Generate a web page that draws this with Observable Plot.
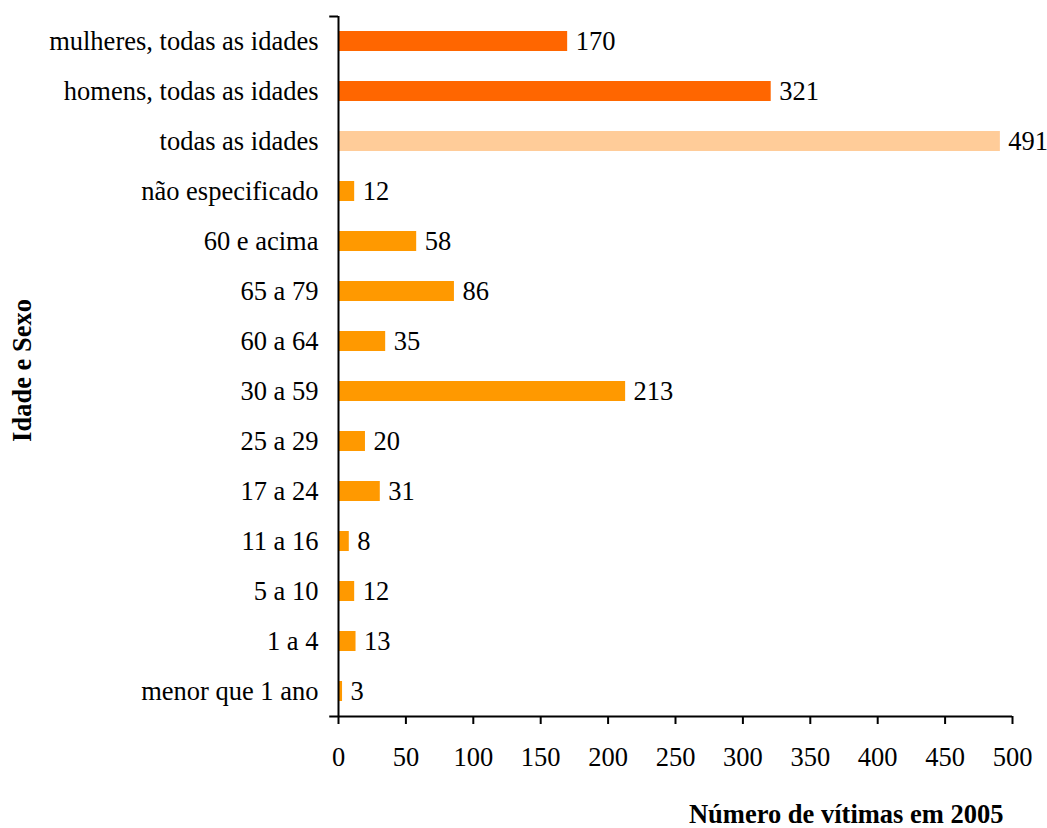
<!DOCTYPE html>
<html>
<head>
<meta charset="utf-8">
<script src="https://cdn.jsdelivr.net/npm/d3@7"></script>
<script src="https://cdn.jsdelivr.net/npm/@observablehq/plot@0.6"></script>
<style>
  html, body { margin: 0; padding: 0; background: #fff; }
</style>
</head>
<body>
<div id="chart"></div>
<script>
const categories = [
  "mulheres, todas as idades",
  "homens, todas as idades",
  "todas as idades",
  "não especificado",
  "60 e acima",
  "65 a 79",
  "60 a 64",
  "30 a 59",
  "25 a 29",
  "17 a 24",
  "11 a 16",
  "5 a 10",
  "1 a 4",
  "menor que 1 ano"
];
const values = [170, 321, 491, 12, 58, 86, 35, 213, 20, 31, 8, 12, 13, 3];
const barColors = ["#FF6600", "#FF6600", "#FFCC99", "#FF9900", "#FF9900", "#FF9900", "#FF9900",
                   "#FF9900", "#FF9900", "#FF9900", "#FF9900", "#FF9900", "#FF9900", "#FF9900"];
const xTicks = [0, 50, 100, 150, 200, 250, 300, 350, 400, 450, 500];
const xLabel = "Número de vítimas em 2005";
const yLabel = "Idade e Sexo";

const data = categories.map((c, i) => ({category: c, value: values[i], color: barColors[i]}));

const chart = Plot.plot({
  width: 1047,
  height: 828,
  marginLeft: 338,
  marginRight: 35,
  marginTop: 16,
  marginBottom: 112,
  style: {
    fontFamily: '"Liberation Serif", "Times New Roman", serif',
    fontSize: "26.5px",
    color: "#000",
    background: "#fff",
    overflow: "visible"
  },
  x: {domain: [0, 500]},
  y: {domain: categories, paddingInner: 0.6, paddingOuter: 0.3},
  color: {type: "identity"},
  marks: [
    Plot.barX(data, {y: "category", x: "value", fill: d => d.color, insetLeft: 1}),
    Plot.text(data, {y: "category", x: "value", text: d => String(d.value), textAnchor: "start", dx: 8, fill: "#000"}),
    Plot.axisX({ticks: xTicks, tickSize: 8, tickPadding: 23, tickFormat: d => String(d), label: null, strokeWidth: 2}),
    Plot.axisY({tickSize: 0, tickPadding: 20, label: null}),
    Plot.ruleX([0], {stroke: "#000", strokeWidth: 2}),
    Plot.ruleY([categories[categories.length - 1]], {x1: -6.5, x2: 500, dy: 25, stroke: "#000", strokeWidth: 2}),
    Plot.ruleY([categories[0]], {x1: -6.5, x2: 0, dy: -25, stroke: "#000", strokeWidth: 2}),
    Plot.text([xLabel], {frameAnchor: "bottom-right", textAnchor: "end", dx: -9, dy: 106, fontWeight: "bold", fill: "#000"}),
    Plot.text([yLabel], {frameAnchor: "left", textAnchor: "middle", rotate: -90, dx: -316, dy: 4, fontWeight: "bold", fill: "#000"})
  ]
});
document.getElementById("chart").appendChild(chart);
</script>
</body>
</html>
